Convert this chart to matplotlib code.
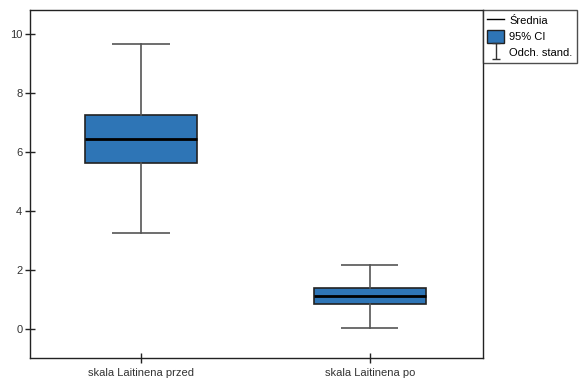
import matplotlib
matplotlib.use("Agg")
import matplotlib.pyplot as plt
from matplotlib.lines import Line2D
from matplotlib.patches import Patch
from matplotlib.path import Path

plt.rcParams['font.family'] = ['Liberation Sans', 'DejaVu Sans']
plt.rcParams['font.size'] = 8

# dane: srednia, 95% CI, srednia +/- odch. stand.
categories = ['skala Laitinena przed', 'skala Laitinena po']
means = [6.43, 1.09]
ci_low = [5.62, 0.83]
ci_high = [7.25, 1.36]
sd_low = [3.25, 0.02]
sd_high = [9.66, 2.16]

box_color = '#2E75B6'

fig = plt.figure(figsize=(5.79, 3.85), dpi=100)
ax = fig.add_axes([0.0518, 0.0701, 0.7824, 0.9039])

stats = []
for i, name in enumerate(categories):
    stats.append({
        'label': name,
        'med': means[i],
        'q1': ci_low[i],
        'q3': ci_high[i],
        'whislo': sd_low[i],
        'whishi': sd_high[i],
        'fliers': [],
    })

ax.bxp(stats, positions=[1, 2], widths=0.49, patch_artist=True,
       showfliers=False,
       boxprops=dict(facecolor=box_color, edgecolor='#222222', linewidth=1.2),
       medianprops=dict(color='black', linewidth=2),
       whiskerprops=dict(color='#555555', linewidth=1.2),
       capprops=dict(color='#555555', linewidth=1.2, solid_capstyle='butt'),
       capwidths=0.25)

ax.set_xlim(0.515, 2.495)
ax.set_ylim(-1.0, 10.8)
ax.set_yticks([0, 2, 4, 6, 8, 10])
ax.set_xticks([1, 2])
ax.set_xticklabels(categories)

for sp in ax.spines.values():
    sp.set_color('#222222')
    sp.set_linewidth(1.0)
ax.tick_params(axis='both', direction='inout', length=7, width=1,
               color='#222222', labelcolor='#333333')
ax.tick_params(axis='y', pad=2)
ax.tick_params(axis='x', pad=4)

# znacznik odchylenia standardowego w legendzie
sd_marker = Path([(-0.5, 1), (0.5, 1), (0, 1), (0, -1), (-0.5, -1), (0.5, -1)],
                 [Path.MOVETO, Path.LINETO, Path.MOVETO, Path.LINETO,
                  Path.MOVETO, Path.LINETO])
handles = [
    Line2D([], [], color='black', linewidth=1),
    Patch(facecolor=box_color, edgecolor='#222222'),
    Line2D([], [], color='#333333', linestyle='none', marker=sd_marker,
           markersize=12, markeredgewidth=1),
]
leg = ax.legend(handles, ['Średnia', '95% CI', 'Odch. stand.'],
                loc='upper left', bbox_to_anchor=(1.0, 1.0), borderaxespad=0,
                frameon=True, fancybox=False, handlelength=1.5,
                handleheight=1.3, handletextpad=0.45, labelspacing=0.35,
                borderpad=0.4, fontsize=8)
leg.get_frame().set_edgecolor('#222222')
leg.get_frame().set_linewidth(1.0)

fig.savefig('out.png', dpi=100)
